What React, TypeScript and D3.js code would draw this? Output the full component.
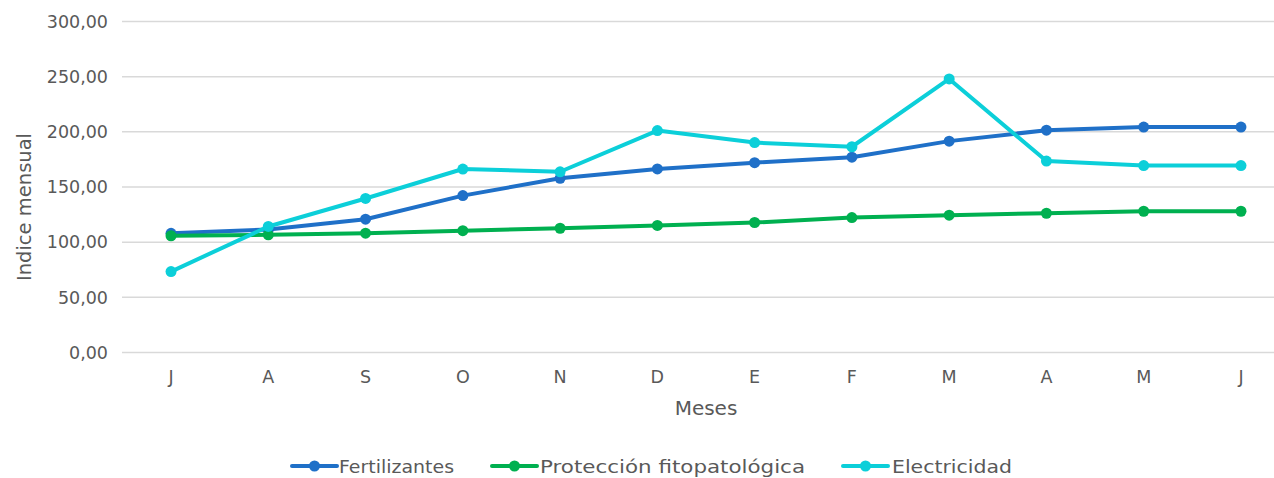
import React from "react";
import * as d3 from "d3";

const months = ["J", "A", "S", "O", "N", "D", "E", "F", "M", "A", "M", "J"];
const fertilizantes = [108, 111.5, 120.8, 142.2, 157.9, 166.4, 172.1, 177, 191.6, 201.5, 204.4, 204.4];
const proteccion = [105.8, 106.6, 108.1, 110.4, 112.6, 115.1, 117.8, 122.3, 124.4, 126.2, 128, 128];
const electricidad = [73.3, 114.2, 139.6, 166.3, 163.8, 201.2, 190.3, 186.5, 248, 173.5, 169.4, 169.4];
const yTicks = [0, 50, 100, 150, 200, 250, 300];

const seriesNames = ["Fertilizantes", "Protección fitopatológica", "Electricidad"];
const seriesColors = ["#1f70c8", "#00b050", "#0ccfd9"];
const seriesValues = [fertilizantes, proteccion, electricidad];

const W = 1274;
const H = 478;
const FONT = "'DejaVu Sans', sans-serif";
const TEXT = "#595959";

export default function App() {
  const idx = months.map((_, i) => i);
  const x = d3.scalePoint<number>().domain(idx).range([122.4, 1289.6]).padding(0.5);
  const y = d3.scaleLinear().domain([0, 300]).range([352.4, 21.6]);
  const line = d3
    .line<number>()
    .x((_, i) => x(i) as number)
    .y((d) => y(d));
  const fmt = (v: number) => v.toFixed(2).replace(".", ",");

  const legendItems = [
    { lineX: 292, textX: 339, w: 115 },
    { lineX: 492, textX: 540, w: 265 },
    { lineX: 843, textX: 892, w: 120 },
  ];

  return (
    <svg
      width={W}
      height={H}
      style={{ position: "absolute", left: 0, top: 0, background: "#fff" }}
      fontFamily={FONT}
    >
      {yTicks.map((t) => (
        <g key={t}>
          <line x1={122} x2={W} y1={y(t)} y2={y(t)} stroke="#d9d9d9" strokeWidth={1.5} />
          <text x={108} y={y(t)} dy="0.36em" textAnchor="end" fontSize={17.5} fill={TEXT}>
            {fmt(t)}
          </text>
        </g>
      ))}
      {months.map((m, i) => (
        <text key={i} x={x(i)} y={383} textAnchor="middle" fontSize={17.5} fill={TEXT}>
          {m}
        </text>
      ))}
      <text x={706} y={415} textAnchor="middle" fontSize={20} fill={TEXT}>
        Meses
      </text>
      <text
        transform={`translate(31,207) rotate(-90)`}
        textAnchor="middle"
        fontSize={19.5}
        fill={TEXT}
      >
        Indice mensual
      </text>
      {seriesValues.map((vals, s) => (
        <g key={s}>
          <path d={line(vals) || ""} fill="none" stroke={seriesColors[s]} strokeWidth={4} strokeLinejoin="round" />
          {vals.map((v, i) => (
            <circle key={i} cx={x(i)} cy={y(v)} r={5.5} fill={seriesColors[s]} />
          ))}
        </g>
      ))}
      {legendItems.map((it, s) => (
        <g key={s}>
          <line x1={it.lineX} x2={it.lineX + 45} y1={466} y2={466} stroke={seriesColors[s]} strokeWidth={4} strokeLinecap="round" />
          <circle cx={it.lineX + 22.5} cy={466} r={5.5} fill={seriesColors[s]} />
          <text
            x={it.textX}
            y={466}
            dy="0.36em"
            fontSize={18.5}
            fill={TEXT}
            textLength={it.w}
            lengthAdjust="spacingAndGlyphs"
          >
            {seriesNames[s]}
          </text>
        </g>
      ))}
    </svg>
  );
}
